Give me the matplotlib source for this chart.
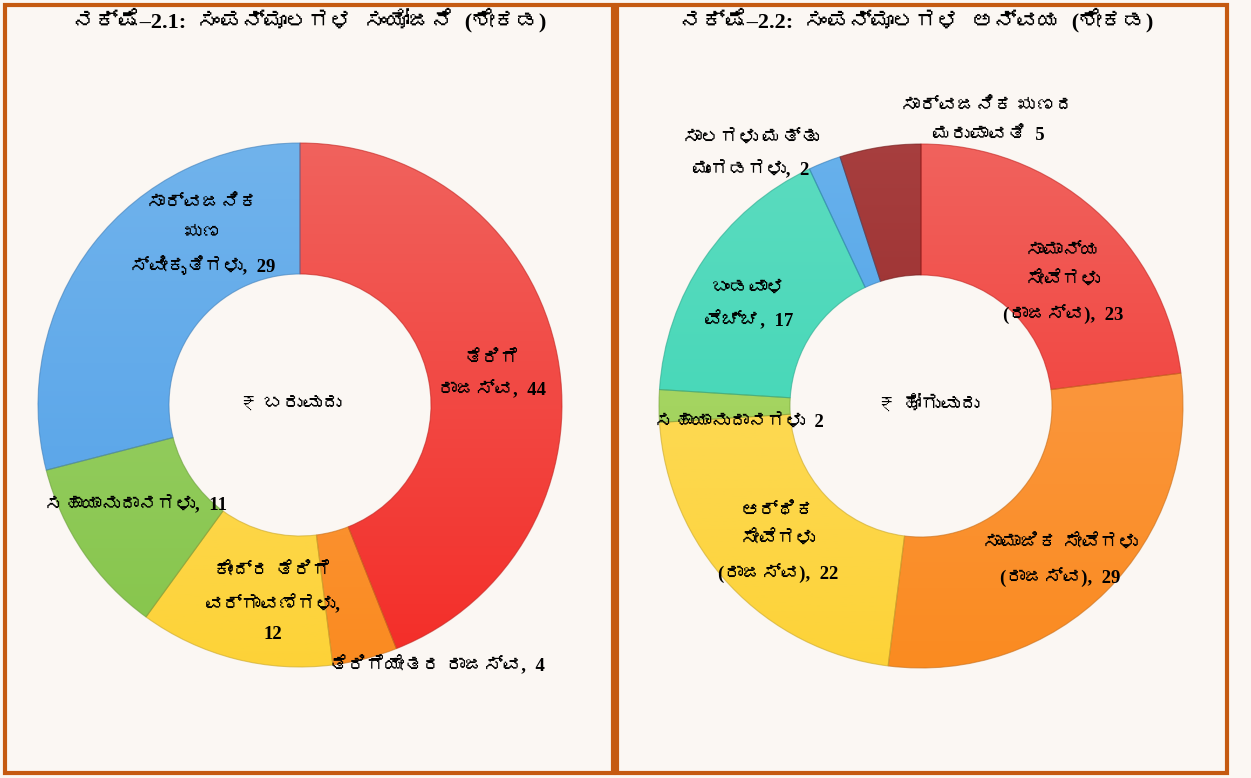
import matplotlib
matplotlib.use("Agg")
import matplotlib.pyplot as plt
import numpy as np
from matplotlib import font_manager
from matplotlib.ft2font import FT2Font
from matplotlib.colors import LinearSegmentedColormap, to_rgb
from matplotlib.patches import Rectangle

# ---- data ----
left_title = "ನಕ್ಷೆ–2.1:  ಸಂಪನ್ಮೂಲಗಳ  ಸಂಯೋಜನೆ  (ಶೇಕಡ)"
left_names = ["ತೆರಿಗೆ\nರಾಜಸ್ವ,", "ತೆರಿಗೆಯೇತರ ರಾಜಸ್ವ,", "ಕೇಂದ್ರ ತೆರಿಗೆ\nವರ್ಗಾವಣೆಗಳು,\n",
              "ಸಹಾಯಾನುದಾನಗಳು,", "ಸಾರ್ವಜನಿಕ\nಋಣ\nಸ್ವೀಕೃತಿಗಳು,"]
left_values = [44, 4, 12, 11, 29]
left_center_text = "₹ ಬರುವುದು"

right_title = "ನಕ್ಷೆ–2.2:  ಸಂಪನ್ಮೂಲಗಳ  ಅನ್ವಯ  (ಶೇಕಡ)"
right_names = ["ಸಾಮಾನ್ಯ\nಸೇವೆಗಳು\n(ರಾಜಸ್ವ),", "ಸಾಮಾಜಿಕ ಸೇವೆಗಳು\n(ರಾಜಸ್ವ),",
               "ಆರ್ಥಿಕ\nಸೇವೆಗಳು\n(ರಾಜಸ್ವ),", "ಸಹಾಯಾನುದಾನಗಳು", "ಬಂಡವಾಳ\nವೆಚ್ಚ,",
               "ಸಾಲಗಳು ಮತ್ತು\nಮುಂಗಡಗಳು,", "ಸಾರ್ವಜನಿಕ ಋಣದ\nಮರುಪಾವತಿ"]
right_values = [23, 29, 22, 2, 17, 2, 5]
right_center_text = "₹ ಹೋಗುವುದು"

# colours (base, lighter top)
left_colors = [("#F42A25", "#F06560"), ("#FA8A1E", "#FBA055"), ("#FDD235", "#FDE070"),
               ("#84C448", "#A2D474"), ("#4F9FE8", "#72B4EC")]
right_colors = [("#F42A25", "#F06560"), ("#FA8A1E", "#FBA055"), ("#FDD235", "#FDE070"),
                ("#94CC48", "#B4DC78"), ("#33D4B2", "#5EDCC0"), ("#3F9BE6", "#6AB2EC"),
                ("#8E1F1F", "#A84040")]

# label centres in pixel coords (x, y from top)
left_label_pos = [(492, 375), (437, 665), (273, 603), (136, 505), (203, 236)]
right_label_pos = [(1063, 284), (1060, 561), (778, 543), (739, 423), (749, 305),
                   (751, 155), (988, 121)]

W, H = 1251, 778
BG = "#FBF7F3"
BORDER = "#C55A11"


# Kannada glyphs are not in DejaVu, so look for any installed font that has them
def find_kannada_font():
    for f in font_manager.fontManager.ttflist:
        try:
            if FT2Font(f.fname).get_char_index(0x0C95):
                return f.name
        except Exception:
            pass
    return None


kn = find_kannada_font()
fams = ["Liberation Serif"] + ([kn] if kn else []) + ["DejaVu Sans"]

fig = plt.figure(figsize=(W / 100, H / 100), dpi=100)
fig.patch.set_facecolor(BG)
ax = fig.add_axes([0, 0, 1, 1])
ax.set_facecolor(BG)


def gradient_wedges(wedges, colors, cx, cy, r):
    grad = np.linspace(0, 1, 256)[:, None]
    for w, (base, top) in zip(wedges, colors):
        cmap = LinearSegmentedColormap.from_list("g", [base, top])
        im = ax.imshow(grad, cmap=cmap, extent=(cx - r * 1.1, cx + r * 1.1, cy - r * 1.1, cy + r * 1.1),
                       origin="lower", aspect="auto", zorder=2, interpolation="bilinear")
        im.set_clip_path(w)
        w.set_facecolor("none")
        w.set_zorder(3)
        w.set_edgecolor(tuple(c * 0.8 for c in to_rgb(base)) + (0.6,))
        w.set_linewidth(0.8)


def draw_donut(values, colors, names, label_pos, cx_px, cy_px, r, explode, title, title_x, center_text, center_x):
    cy = H - cy_px
    wedges, _ = ax.pie(values, startangle=90, counterclock=False, radius=r, center=(cx_px, cy),
                       explode=[explode] * len(values),
                       wedgeprops=dict(width=r * 0.5))
    gradient_wedges(wedges, colors, cx_px, cy, r)
    for name, v, (lx, ly) in zip(names, values, label_pos):
        sep = "  " if not name.endswith("\n") else ""
        ax.text(lx, H - ly, f"{name}{sep}{v}", ha="center", va="center", fontsize=13.5,
                fontweight="bold", family=fams, linespacing=1.9, zorder=5)
    ax.text(title_x, H - 20, title, ha="center", va="center", fontsize=16, fontweight="bold",
            family=fams)
    ax.text(center_x, H - 405, center_text, ha="center", va="center", fontsize=14,
            fontweight="bold", family=fams)


draw_donut(left_values, left_colors, left_names, left_label_pos, 300, 405, 262, 0.0,
           left_title, 310, left_center_text, 290)
draw_donut(right_values, right_colors, right_names, right_label_pos, 921, 406, 262, 0.015,
           right_title, 917, right_center_text, 928)

# panel borders
ax.add_patch(Rectangle((5, 5), 608, 768, fill=False, edgecolor=BORDER, linewidth=3, zorder=6))
ax.add_patch(Rectangle((617, 5), 610, 768, fill=False, edgecolor=BORDER, linewidth=3, zorder=6))

ax.set_xlim(0, W)
ax.set_ylim(0, H)
ax.set_aspect("auto")
ax.axis("off")

fig.savefig("out.png", dpi=100, facecolor=BG)
